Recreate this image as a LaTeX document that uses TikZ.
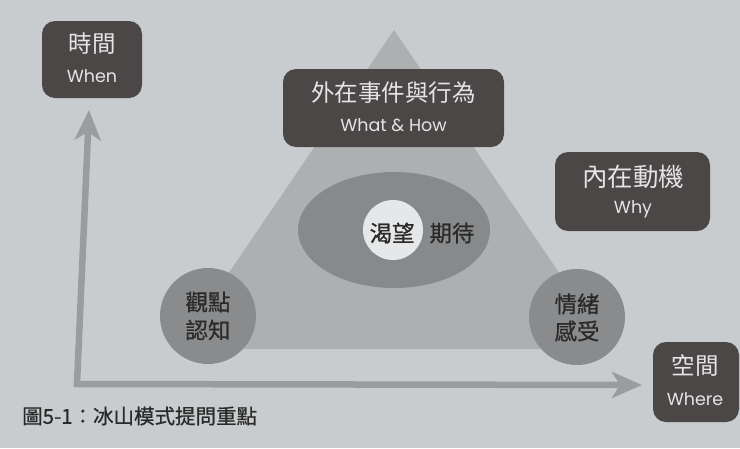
\documentclass[tikz,border=0pt]{standalone}
\usepackage{fontspec}
\newfontfamily\cjk{Noto Sans CJK TC}
\newfontfamily\cjkb[FakeBold=0.7]{Noto Sans CJK TC}
\newfontfamily\latn{Poppins}
\usetikzlibrary{arrows.meta}
\definecolor{bgc}{HTML}{C9CCCE}
\definecolor{boxc}{HTML}{4B4747}
\definecolor{tric}{HTML}{ADAFB1}
\definecolor{ellc}{HTML}{88898B}
\definecolor{circc}{HTML}{8A8B8D}
\definecolor{axisc}{HTML}{9A9C9E}
\definecolor{lightt}{HTML}{E4E4E4}
\definecolor{darkt}{HTML}{2A2A2A}
\definecolor{wc}{HTML}{E6E7E8}
\tikzset{
  darkbox/.style={fill=boxc, rounded corners=13pt, inner sep=0pt},
  cjkw/.style={text=lightt, font=\cjk\fontsize{23.5}{23.5}\selectfont, inner sep=0pt},
  latw/.style={text=lightt, font=\latn\fontsize{17.5}{17.5}\selectfont, inner sep=0pt},
  cjkd/.style={text=darkt, font=\cjkb\fontsize{22.5}{22.5}\selectfont, inner sep=0pt},
  roundc/.style={circle, fill=circc, minimum size=96pt, inner sep=0pt},
  axis/.style={draw=axisc, line width=6.5pt, -{Stealth[length=30pt, width=26pt, inset=8pt]}}
}
\begin{document}
\begin{tikzpicture}[x=1pt, y=-1pt]
\useasboundingbox (0,0) rectangle (740,448);
\fill[bgc] (0,0) rectangle (740,448);

% triangle
\fill[tric] (394,30) -- (611,349) -- (177,349) -- cycle;
% ellipse and inner circle
\fill[ellc] (394,230) ellipse [x radius=96, y radius=58];
\node[circle, fill=wc, minimum size=60pt, inner sep=0pt] (core) at (393,230) {};
\node[cjkd] (ke) at (392,233) {渴望};
\node[cjkd] (qd) at (452,233) {期待};

% corner circles
\node[roundc] (gd) at (208,316) {};
\node[cjkd] at (208,302) {觀點};
\node[cjkd] at (208,330) {認知};
\node[roundc] (qx) at (577,317) {};
\node[cjkd] at (577,304) {情緒};
\node[cjkd] at (577,331) {感受};

% axes
\coordinate (origin) at (77,384);
\coordinate (ytip) at (89,110);
\coordinate (xtip) at (642,385);
\draw[axis] (origin) -- (ytip);
\draw[axis] ([xshift=-3.25pt]origin) -- (xtip);

% boxes
\node[darkbox, minimum width=100pt, minimum height=77pt] (when) at (92,59.5) {};
\node[cjkw] at (92,44) {時間};
\node[latw] at (92,76) {When};

\node[darkbox, minimum width=221pt, minimum height=78pt] (what) at (393.5,108) {};
\node[cjkw] at (393.5,93) {外在事件與行為};
\node[latw] at (393.5,125) {What \& How};

\node[darkbox, minimum width=155pt, minimum height=79pt] (why) at (632.5,191.5) {};
\node[cjkw, font=\cjk\fontsize{25.5}{25.5}\selectfont] at (633,177) {內在動機};
\node[latw] at (633,209) {Why};

\node[darkbox, minimum width=86pt, minimum height=80pt] (where) at (696,382) {};
\node[cjkw] at (695,366) {空間};
\node[latw] at (695,399) {Where};

% caption
\node[anchor=west, text=darkt, inner sep=0pt, font=\cjkb\fontsize{20.5}{20.5}\selectfont] (cap) at (22,416) {圖5-1：冰山模式提問重點};
\end{tikzpicture}
\end{document}
